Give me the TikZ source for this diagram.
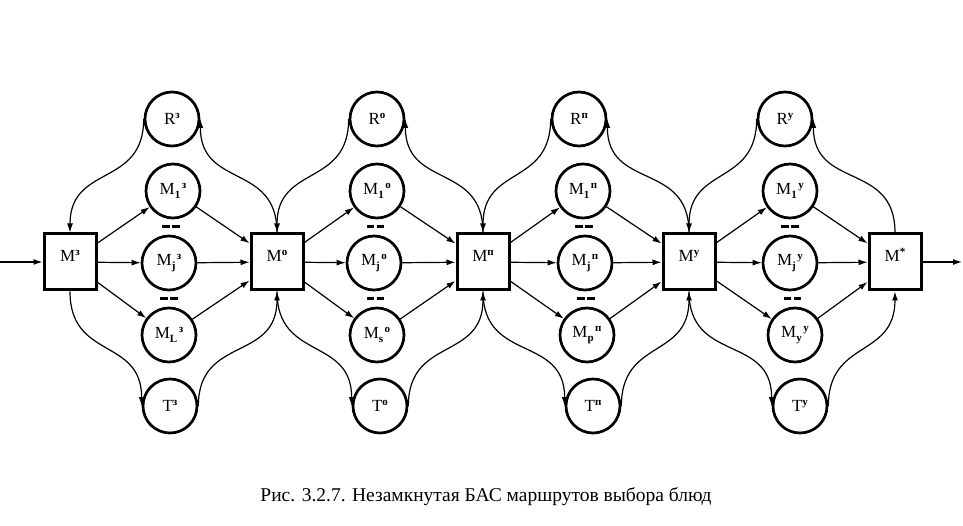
\documentclass[tikz,border=0pt]{standalone}
\usepackage{fontspec}
\setmainfont{Liberation Serif}
\usetikzlibrary{arrows.meta}
\usetikzlibrary{calc}
\newcommand\up[1]{\raisebox{6pt}{\fontsize{11}{11}\selectfont\bfseries #1}}
\newcommand\lo[1]{\raisebox{-4pt}{\fontsize{11}{11}\selectfont\bfseries #1}}
\newcommand\ml[3]{#1\lo{#2}\hspace{1.5pt}\up{#3}}
\tikzset{
  box/.style={draw, line width=3pt, minimum width=52pt, minimum height=56pt,
    text height=12pt, text depth=13pt, font=\fontsize{17}{19}\selectfont},
  st/.style={draw, circle, line width=2.7pt, minimum size=54pt, inner sep=0pt,
    font=\fontsize{17}{19}\selectfont},
  arr/.style={line width=1.2pt, -{Latex[length=9pt,width=6pt]}},
  gap/.style={line width=3pt, dash pattern=on 7.5pt off 2.5pt},
}

\begin{document}
\begin{tikzpicture}[x=1pt, y=1pt]
    \useasboundingbox (0, 0) rectangle (963, 525);

    \node [box] (b1) at (70, 263) {M\up{з}};
    \node [box] (b2) at (277, 263) {M\up{о}};
    \node [box] (b3) at (483, 263) {M\up{п}};
    \node [box] (b4) at (689, 263) {M\up{у}};
    \node [box] (b5) at (895, 263) {M\up{*}};

    \node [st] (r1) at (172, 406) {R\up{з}};
    \node [st] (a1) at (173, 334) {\ml{M}{1}{з}};
    \node [st] (j1) at (169, 262) {\ml{M}{j}{з}};
    \node [st] (l1) at (169, 190) {\ml{M}{L}{з}};
    \node [st] (t1) at (170, 119) {T\up{з}};

    \node [st] (r2) at (377, 406) {R\up{о}};
    \node [st] (a2) at (377, 334) {\ml{M}{1}{о}};
    \node [st] (j2) at (374, 262) {\ml{M}{j}{о}};
    \node [st] (l2) at (377, 190) {\ml{M}{s}{о}};
    \node [st] (t2) at (380, 119) {T\up{о}};

    \node [st] (r3) at (579, 406) {R\up{п}};
    \node [st] (a3) at (583, 334) {\ml{M}{1}{п}};
    \node [st] (j3) at (585, 262) {\ml{M}{j}{п}};
    \node [st] (l3) at (587, 190) {\ml{M}{p}{п}};
    \node [st] (t3) at (593, 119) {T\up{п}};

    \node [st] (r4) at (785, 406) {R\up{у}};
    \node [st] (a4) at (790, 334) {\ml{M}{1}{у}};
    \node [st] (j4) at (790, 262) {\ml{M}{j}{у}};
    \node [st] (l4) at (795, 190) {\ml{M}{у}{у}};
    \node [st] (t4) at (800, 119) {T\up{у}};

    \coordinate (src) at (0, 263);
    \coordinate (snk) at (962, 263);
    \draw [arr] (src) -- (b1);
    \draw [arr] (b5) -- (snk);

    \foreach \i/\n in {1/2, 2/3, 3/4, 4/5} {
        \draw [arr] (b\i) -- (a\i);
        \draw [arr] (b\i) -- (j\i);
        \draw [arr] (b\i) -- (l\i);
        \draw [arr] (a\i) -- (b\n);
        \draw [arr] (j\i) -- (b\n);
        \draw [arr] (l\i) -- (b\n);
        \draw [arr] (r\i.west) to [out=-90, in=90, looseness=1.3] (b\i.north);
        \draw [arr] (b\n.north) to [out=90, in=-90, looseness=1.3] (r\i.east);
        \draw [arr] (b\i.south) to [out=-90, in=90, looseness=1.3] (t\i.west);
        \draw [arr] (t\i.east) to [out=90, in=-90, looseness=1.3] (b\n.south);
        % dashes between the states
        \draw [gap] ($(a\i.south)!0.5!(j\i.north)$) +(-9, 0) -- +(9, 0);
        \draw [gap] ($(j\i.south)!0.5!(l\i.north)$) +(-9, 0) -- +(9, 0);
    }

    \node [font=\fontsize{19.5}{22}\selectfont] (cap) at (486, 28)
        {Рис. 3.2.7. Незамкнутая БАС маршрутов выбора блюд};
\end{tikzpicture}
\end{document}
